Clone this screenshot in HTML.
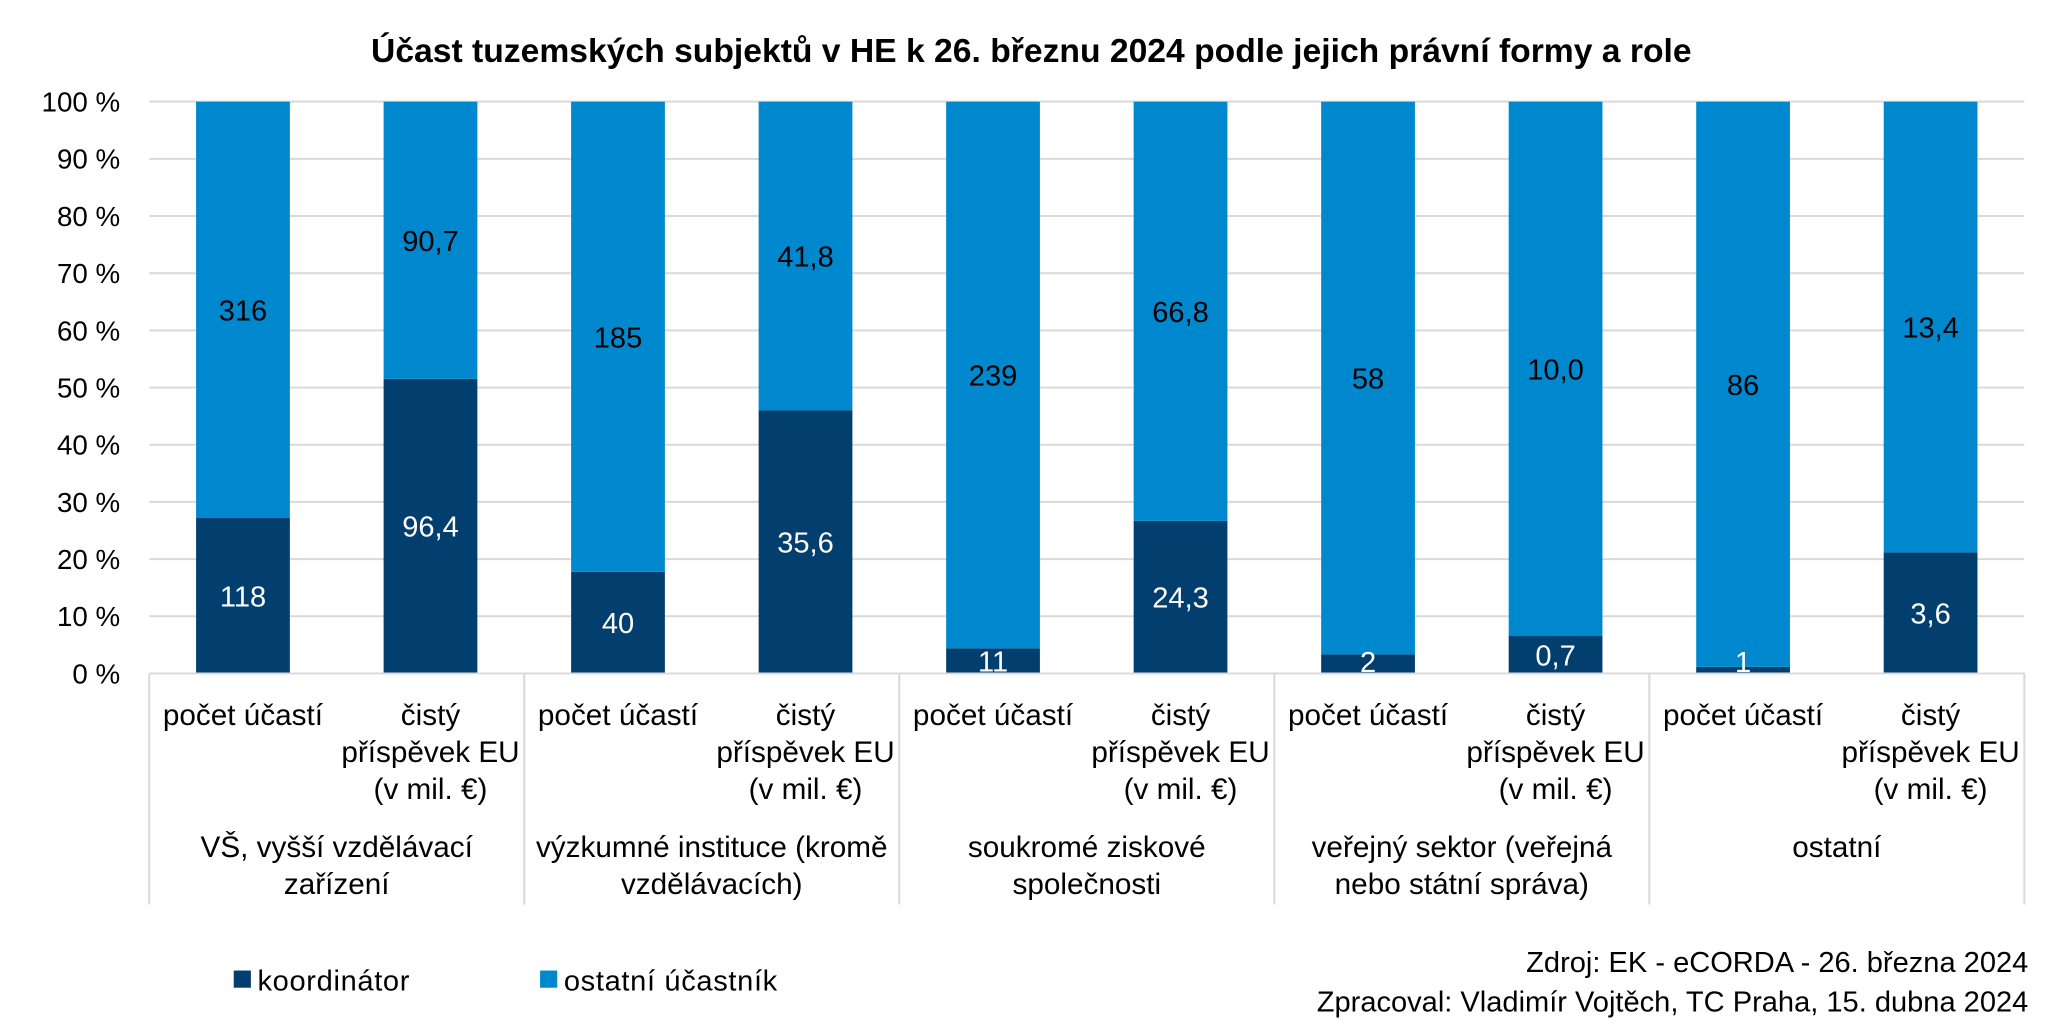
<!DOCTYPE html>
<html><head><meta charset="utf-8"><style>
html,body{margin:0;padding:0;background:#fff;}
svg{display:block;font-family:"Liberation Sans Narrow","Liberation Sans",sans-serif;}
</style></head><body>
<svg id="chart" width="2060" height="1033" viewBox="0 0 1560 782.3" preserveAspectRatio="none" xmlns="http://www.w3.org/2000/svg">
<text x="781" y="47" text-anchor="middle" font-size="25.5" font-weight="bold" fill="#000">Účast tuzemských subjektů v HE k 26. březnu 2024 podle jejich právní formy a role</text>
<g id="grid"></g><g id="bars"></g><g id="labels"></g><g id="axis"></g>
<g>
<rect x="177" y="735" width="13" height="13" fill="#023f6e"/>
<text x="195" y="750" font-size="22" letter-spacing="0.5" fill="#000">koordinátor</text>
<rect x="409" y="735" width="13" height="13" fill="#0088ce"/>
<text x="427" y="750" font-size="22" letter-spacing="0.5" fill="#000">ostatní účastník</text>
</g>
<text x="1536" y="736" text-anchor="end" font-size="22" fill="#000">Zdroj: EK - eCORDA - 26. března 2024</text>
<text x="1536" y="766" text-anchor="end" font-size="22" fill="#000">Zpracoval: Vladimír Vojtěch, TC Praha, 15. dubna 2024</text>
</svg>
<script>
const coordValues=[118,96.4,40,35.6,11,24.3,2,0.7,1,3.6];
const otherValues=[316,90.7,185,41.8,239,66.8,58,10.0,86,13.4];
const valueLabelsCoord=["118","96,4","40","35,6","11","24,3","2","0,7","1","3,6"];
const valueLabelsOther=["316","90,7","185","41,8","239","66,8","58","10,0","86","13,4"];
const subCategories=[["počet účastí"],["čistý","příspěvek EU","(v mil. €)"]];
const groups=[["VŠ, vyšší vzdělávací","zařízení"],["výzkumné instituce (kromě","vzdělávacích)"],["soukromé ziskové","společnosti"],["veřejný sektor (veřejná","nebo státní správa)"],["ostatní"]];
const ticks=[0,10,20,30,40,50,60,70,80,90,100];

const NS="http://www.w3.org/2000/svg";
const X0=113,X1=1533,Y0=510,Y1=77,N=coordValues.length;
const cw=(X1-X0)/N,bw=71;
const y=p=>Y0-(Y0-Y1)*p/100;
const xc=i=>X0+cw*(i+0.5);
function mk(tag,attrs,parent,txt){const e=document.createElementNS(NS,tag);for(const k in attrs)e.setAttribute(k,attrs[k]);if(txt!==undefined)e.textContent=txt;parent.appendChild(e);return e;}
const grid=document.getElementById('grid'),bars=document.getElementById('bars'),labels=document.getElementById('labels'),axis=document.getElementById('axis');
ticks.forEach(t=>{
  if(t>0){const l=mk('line',{x1:X0,x2:X1,y1:y(t),y2:y(t),stroke:'#d9d9d9','stroke-width':1.5},grid);
  
  }
  const tx=mk('text',{x:91,y:y(t)+7.5,'text-anchor':'end','font-size':21,fill:'#000'},axis,t+' %');
  
  
});
for(let i=0;i<N;i++){
  const tot=coordValues[i]+otherValues[i],pc=coordValues[i]/tot*100;
  const r1=mk('rect',{x:xc(i)-bw/2,y:y(pc),width:bw,height:Y0-y(pc),fill:'#023f6e'},bars);
  
  
  const r2=mk('rect',{x:xc(i)-bw/2,y:Y1,width:bw,height:y(pc)-Y1,fill:'#0088ce'},bars);
  
  
  const t1=mk('text',{x:xc(i),y:Math.min((Y0+y(pc))/2+8,Y0-1),'text-anchor':'middle','font-size':22,fill:'#fff'},labels,valueLabelsCoord[i]);
  
  
  const t2=mk('text',{x:xc(i),y:(y(pc)+Y1)/2+8,'text-anchor':'middle','font-size':22,fill:'#000'},labels,valueLabelsOther[i]);
  
  
  subCategories[i%2].forEach((s,j)=>{
    const c=mk('text',{x:xc(i),y:549+28*j,'text-anchor':'middle','font-size':22.5,fill:'#000'},axis,s);
    
    
  });
}
const base=mk('line',{x1:X0,x2:X1,y1:Y0,y2:Y0,stroke:'#d9d9d9','stroke-width':1.5},axis);


for(let g=0;g<=groups.length;g++){
  const gx=X0+cw*2*g;
  const l=mk('line',{x1:gx,x2:gx,y1:Y0,y2:685,stroke:'#d9d9d9','stroke-width':1.5},axis);
  
  
}
groups.forEach((gl,g)=>{
  gl.forEach((s,j)=>{
    const t=mk('text',{x:X0+cw*(2*g+1),y:649+28*j,'text-anchor':'middle','font-size':22.5,fill:'#000'},axis,s);
    
    
  });
});
</script>
</body></html>
